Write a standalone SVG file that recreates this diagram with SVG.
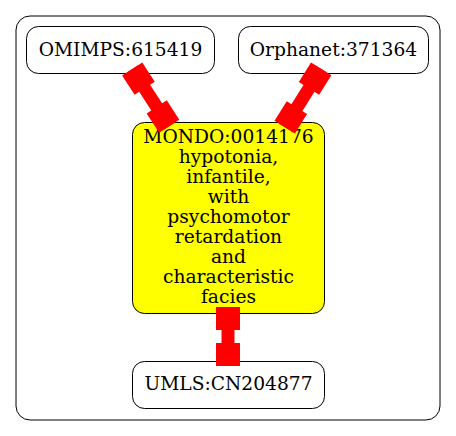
<svg xmlns="http://www.w3.org/2000/svg" width="456" height="436" viewBox="0 0 456 436">
<style>
.node rect{stroke:#000;stroke-width:1}
.plain{fill:#fff}
.focus{fill:#ff0}
text{font-family:"DejaVu Serif","Liberation Serif",serif;font-size:18.67px;fill:#000;text-anchor:middle}
.edge{stroke:#f00;stroke-width:13;fill:none;marker-start:url(#tee);marker-end:url(#tee)}
</style>
<defs>
<marker id="tee" markerUnits="userSpaceOnUse" orient="auto-start-reverse" markerWidth="23" markerHeight="24" refX="23" refY="12" viewBox="0 0 23 24" overflow="visible">
<rect x="0" y="0" width="23" height="24" fill="#f00"/>
</marker>
</defs>
<rect id="cluster" x="16" y="16" width="424" height="404" rx="14" fill="#fff" stroke="#000" stroke-width="1"/>
<g id="OMIMPS_615419" class="node"><rect class="plain" x="26.5" y="26.5" width="188" height="47" rx="12"/><text x="120.5" y="55.5">OMIMPS:615419</text></g>
<g id="Orphanet_371364" class="node"><rect class="plain" x="238.5" y="26.5" width="190" height="47" rx="12"/><text x="333.5" y="55.5">Orphanet:371364</text></g>
<g id="MONDO_0014176" class="node"><rect class="focus" x="132.5" y="122.5" width="192" height="191" rx="12"/>
<text x="228.5" y="142.7">MONDO:0014176</text>
<text x="228.5" y="162.7">hypotonia,</text>
<text x="228.5" y="182.7">infantile,</text>
<text x="228.5" y="202.7">with</text>
<text x="228.5" y="222.7">psychomotor</text>
<text x="228.5" y="242.7">retardation</text>
<text x="228.5" y="262.7">and</text>
<text x="228.5" y="282.7">characteristic</text>
<text x="228.5" y="302.7">facies</text>
</g>
<g id="UMLS_CN204877" class="node"><rect class="plain" x="132.5" y="361.5" width="192" height="47" rx="12"/><text x="228.5" y="389.5">UMLS:CN204877</text></g>
<g id="connectors">
<path class="edge" d="M132.2,69 L169.2,126.2"/>
<path class="edge" d="M321.2,68.9 L284.7,127.1"/>
<path class="edge" d="M228,307 L228,366"/>
</g>
</svg>
